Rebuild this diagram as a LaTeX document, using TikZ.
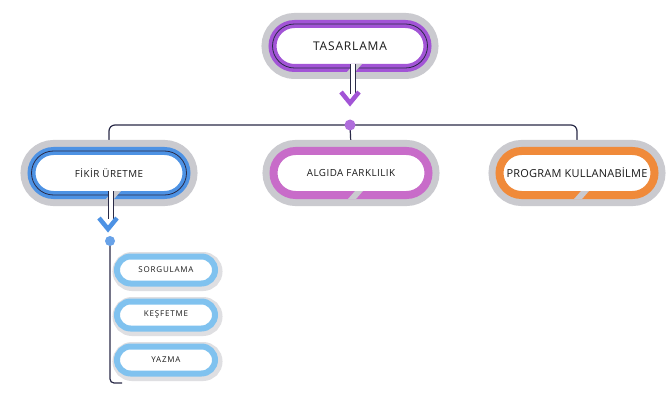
\documentclass[tikz,border=0pt]{standalone}
\usepackage{fontspec}
\setmainfont{Open Sans}
\usetikzlibrary{arrows.meta, positioning, shapes.misc, calc}
\pgfdeclarelayer{background}
\pgfsetlayers{background,main}

\definecolor{navy}{HTML}{2A2B48}
\definecolor{ringgray}{HTML}{CACACF}
\definecolor{tasPurple}{HTML}{A254D6}
\definecolor{fikBlue}{HTML}{4D92E4}
\definecolor{algPink}{HTML}{C86CC9}
\definecolor{progOrange}{HTML}{F08A3A}
\definecolor{subBlue}{HTML}{80C2EF}

\begin{document}
\begin{tikzpicture}[
  x=1pt, y=-1pt,
  node distance=12pt,
  every node/.style={font=\fontsize{9.8}{11}\selectfont\addfontfeatures{LetterSpace=5}, text=black!90},
  pill/.style={rounded rectangle, draw=#1, fill=white, line width=8pt, minimum width=155pt, minimum height=44pt, inner sep=0pt, preaction={draw=ringgray, line width=22pt}},
  hl/.style={postaction={draw=navy, line width=0.8pt}},
  sub/.style={rounded rectangle, draw=subBlue, fill=white, line width=6pt, minimum width=98pt, minimum height=27pt, inner sep=0pt, preaction={draw=ringgray!60, line width=12pt, transform canvas={shift={(1.5pt,-1.5pt)}}}, font=\fontsize{8}{9}\selectfont\addfontfeatures{LetterSpace=10}},
  notch/.style={fill=ringgray},
  tree/.style={draw=navy, line width=1.2pt},
  stem/.style={draw=navy, line width=0.6pt, double=white, double distance=4pt},
  chev/.style={draw=#1, line width=4.5pt, line join=miter, line cap=butt}
]
\useasboundingbox (0,0) rectangle (671,398);

% Main boxes
\node[pill=tasPurple, hl, font=\fontsize{12}{14}\selectfont\addfontfeatures{LetterSpace=7}] (tas) at (350,46) {TASARLAMA};
\node[pill=fikBlue, hl] (fikir) at (109,173) {FİKİR ÜRETME};
\node[pill=algPink] (algida) at (351,173) {ALGIDA FARKLILIK};
\node[pill=progOrange, font=\fontsize{11}{13}\selectfont\addfontfeatures{LetterSpace=2}] (program) at (577,173) {PROGRAM KULLANABİLME};

% Sub boxes
\node[sub] (sorgu) at (166,270) {SORGULAMA};
\node[sub, below=of sorgu] (kesfet) {KEŞFETME};
\node[sub, below=of kesfet] (yazma) {YAZMA};

% Gaps in the rings
\foreach \b in {tas, fikir, algida, program}
  \fill[notch] ($(\b.south)+(-3,0)$) -- ($(\b.south)+(5,0)$) -- ($(\b.south)+(12,-8)$) -- ($(\b.south)+(4,-8)$) -- cycle;

% Joints
\coordinate (tasTip) at (350,103);
\coordinate (tasDot) at (350,125);
\coordinate (fikTip) at (108,229);
\coordinate (fikDot) at (110,241);
\coordinate (subEnd) at (122,383);

% Connectors behind the boxes
\begin{pgfonlayer}{background}
\fill[white] (0,0) rectangle (671,398);
\draw[tree, rounded corners=6pt] (fikir.north) |- (tasDot) -| (program.north);
\draw[tree] (tasDot) -- (algida.north);
\draw[tree, rounded corners=4pt] (fikDot) |- (subEnd);
\end{pgfonlayer}

% Arrows and dots
\draw[stem] ($(tas.south)+(3,-8)$) -- ++(0,30);
\draw[stem] ($(fikir.south)+(2,-8)$) -- ++(0,28);
\draw[chev=tasPurple] ($(tasTip)+(-9,-11)$) -- (tasTip) -- ($(tasTip)+(9,-11)$);
\draw[chev=fikBlue] ($(fikTip)+(-9,-11)$) -- (fikTip) -- ($(fikTip)+(9,-11)$);
\fill[tasPurple!85] (tasDot) circle (5.5);
\fill[fikBlue!85] (fikDot) circle (5);
\end{tikzpicture}
\end{document}
